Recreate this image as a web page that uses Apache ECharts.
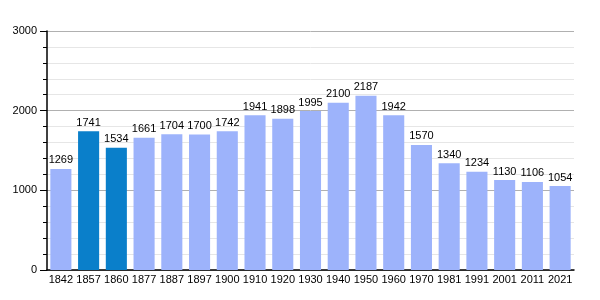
<!DOCTYPE html>
<html><head><meta charset="utf-8">
<script src="https://cdn.jsdelivr.net/npm/echarts@6/dist/echarts.min.js"></script>
<style>html,body{margin:0;padding:0;background:#fff}#c{width:600px;height:300px}</style>
</head><body><div id="c"></div>
<script>
const years = ['1842','1857','1860','1877','1887','1897','1900','1910','1920','1930','1940','1950','1960','1970','1981','1991','2001','2011','2021'];
const population = [1269,1741,1534,1661,1704,1700,1742,1941,1898,1995,2100,2187,1942,1570,1340,1234,1130,1106,1054];
const highlighted = ['1857','1860'];
const yTicks = [0,1000,2000,3000];

const LIGHT = '#9db3fb', DARK = '#0a7fca';
const chart = echarts.init(document.getElementById('c'), null, {renderer:'canvas'});
chart.setOption({
  animation:false,
  textStyle:{fontFamily:'Liberation Sans, Arial, sans-serif'},
  grid:{left:47,right:26,top:31,bottom:30},
  xAxis:{type:'category',data:years,
    axisLine:{lineStyle:{color:'#000',width:1.5}},
    axisTick:{show:false},
    axisLabel:{color:'#000',fontSize:11,margin:4,interval:0,hideOverlap:false}},
  yAxis:{type:'value',min:yTicks[0],max:yTicks[yTicks.length-1],interval:1000,
    axisLine:{show:true,lineStyle:{color:'#000',width:1.5}},
    axisTick:{show:true,length:7,lineStyle:{color:'#000'}},
    minorTick:{show:true,splitNumber:5,length:4,lineStyle:{color:'#000'}},
    splitLine:{show:true,lineStyle:{color:'#b0b0b0',width:1}},
    minorSplitLine:{show:true,lineStyle:{color:'#e6e6e6',width:1}},
    axisLabel:{color:'#000',fontSize:11,margin:10,formatter:v=>String(v)}},
  series:[{type:'bar',barCategoryGap:'24%',
    data:population.map((v,i)=>({value:v,itemStyle:{color:highlighted.includes(years[i])?DARK:LIGHT}})),
    label:{show:true,position:'top',color:'#000',fontSize:11,distance:3}}]
});
</script></body></html>
